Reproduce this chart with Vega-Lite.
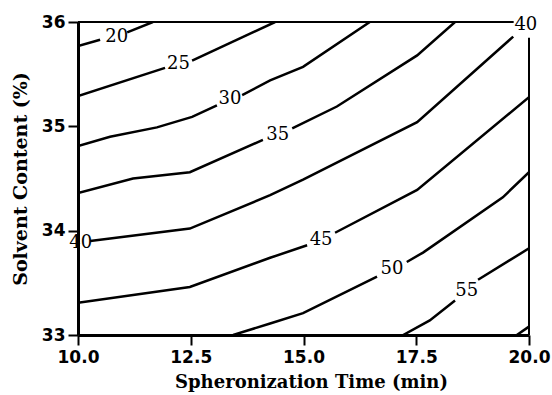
{
  "$schema": "https://vega.github.io/schema/vega-lite/v6.json",
  "autosize": "none",
  "width": 451,
  "height": 313,
  "padding": {"left": 78, "top": 22, "right": 23, "bottom": 60},
  "background": "white",
  "config": {"view": {"stroke": null}},
  "datasets": {
    "contours": [
      {"level": 20, "seg": "20a", "ord": 1, "t": 10.0, "s": 35.77},
      {"level": 20, "seg": "20a", "ord": 2, "t": 10.49, "s": 35.83},
      {"level": 20, "seg": "20b", "ord": 1, "t": 11.09, "s": 35.90},
      {"level": 20, "seg": "20b", "ord": 2, "t": 11.66, "s": 36.0},
      {"level": 25, "seg": "25a", "ord": 1, "t": 10.0, "s": 35.29},
      {"level": 25, "seg": "25a", "ord": 2, "t": 11.93, "s": 35.56},
      {"level": 25, "seg": "25b", "ord": 1, "t": 12.53, "s": 35.63},
      {"level": 25, "seg": "25b", "ord": 2, "t": 14.37, "s": 36.0},
      {"level": 30, "seg": "30a", "ord": 1, "t": 10.0, "s": 34.81},
      {"level": 30, "seg": "30a", "ord": 2, "t": 10.71, "s": 34.90},
      {"level": 30, "seg": "30a", "ord": 3, "t": 11.75, "s": 34.99},
      {"level": 30, "seg": "30a", "ord": 4, "t": 12.53, "s": 35.09},
      {"level": 30, "seg": "30a", "ord": 5, "t": 13.08, "s": 35.20},
      {"level": 30, "seg": "30b", "ord": 1, "t": 13.64, "s": 35.30},
      {"level": 30, "seg": "30b", "ord": 2, "t": 14.26, "s": 35.44},
      {"level": 30, "seg": "30b", "ord": 3, "t": 14.99, "s": 35.57},
      {"level": 30, "seg": "30b", "ord": 4, "t": 16.47, "s": 36.0},
      {"level": 35, "seg": "35a", "ord": 1, "t": 10.0, "s": 34.36},
      {"level": 35, "seg": "35a", "ord": 2, "t": 11.22, "s": 34.50},
      {"level": 35, "seg": "35a", "ord": 3, "t": 12.48, "s": 34.56},
      {"level": 35, "seg": "35a", "ord": 4, "t": 14.10, "s": 34.87},
      {"level": 35, "seg": "35b", "ord": 1, "t": 14.75, "s": 34.98},
      {"level": 35, "seg": "35b", "ord": 2, "t": 15.74, "s": 35.19},
      {"level": 35, "seg": "35b", "ord": 3, "t": 17.52, "s": 35.68},
      {"level": 35, "seg": "35b", "ord": 4, "t": 18.36, "s": 36.0},
      {"level": 40, "seg": "40a", "ord": 1, "t": 10.27, "s": 33.90},
      {"level": 40, "seg": "40a", "ord": 2, "t": 12.48, "s": 34.02},
      {"level": 40, "seg": "40a", "ord": 3, "t": 14.26, "s": 34.34},
      {"level": 40, "seg": "40a", "ord": 4, "t": 14.99, "s": 34.49},
      {"level": 40, "seg": "40a", "ord": 5, "t": 17.52, "s": 35.04},
      {"level": 40, "seg": "40a", "ord": 6, "t": 19.65, "s": 35.86},
      {"level": 45, "seg": "45a", "ord": 1, "t": 10.0, "s": 33.31},
      {"level": 45, "seg": "45a", "ord": 2, "t": 12.48, "s": 33.46},
      {"level": 45, "seg": "45a", "ord": 3, "t": 14.26, "s": 33.74},
      {"level": 45, "seg": "45a", "ord": 4, "t": 15.08, "s": 33.86},
      {"level": 45, "seg": "45b", "ord": 1, "t": 15.70, "s": 33.98},
      {"level": 45, "seg": "45b", "ord": 2, "t": 17.52, "s": 34.39},
      {"level": 45, "seg": "45b", "ord": 3, "t": 20.0, "s": 35.28},
      {"level": 50, "seg": "50a", "ord": 1, "t": 13.44, "s": 33.0},
      {"level": 50, "seg": "50a", "ord": 2, "t": 14.26, "s": 33.11},
      {"level": 50, "seg": "50a", "ord": 3, "t": 14.99, "s": 33.21},
      {"level": 50, "seg": "50a", "ord": 4, "t": 16.63, "s": 33.56},
      {"level": 50, "seg": "50b", "ord": 1, "t": 17.29, "s": 33.70},
      {"level": 50, "seg": "50b", "ord": 2, "t": 17.65, "s": 33.79},
      {"level": 50, "seg": "50b", "ord": 3, "t": 19.42, "s": 34.32},
      {"level": 50, "seg": "50b", "ord": 4, "t": 20.0, "s": 34.56},
      {"level": 55, "seg": "55a", "ord": 1, "t": 17.21, "s": 33.0},
      {"level": 55, "seg": "55a", "ord": 2, "t": 17.80, "s": 33.14},
      {"level": 55, "seg": "55a", "ord": 3, "t": 18.36, "s": 33.33},
      {"level": 55, "seg": "55b", "ord": 1, "t": 18.87, "s": 33.53},
      {"level": 55, "seg": "55b", "ord": 2, "t": 20.0, "s": 33.83},
      {"level": 60, "seg": "60a", "ord": 1, "t": 19.73, "s": 33.0},
      {"level": 60, "seg": "60a", "ord": 2, "t": 20.0, "s": 33.08}
    ],
    "labels": [
      {"label": "20", "t": 10.86, "s": 35.86},
      {"label": "25", "t": 12.23, "s": 35.60},
      {"label": "30", "t": 13.37, "s": 35.26},
      {"label": "35", "t": 14.43, "s": 34.92},
      {"label": "40", "t": 10.06, "s": 33.88},
      {"label": "40", "t": 19.93, "s": 35.97},
      {"label": "45", "t": 15.39, "s": 33.91},
      {"label": "50", "t": 16.96, "s": 33.63},
      {"label": "55", "t": 18.62, "s": 33.42}
    ],
    "frame": [
      {"t": 10.0, "t2": 19.66, "s": 36.0, "s2": 36.0},
      {"t": 20.0, "t2": 20.0, "s": 33.0, "s2": 35.85}
    ]
  },
  "layer": [
    {
      "data": {"name": "frame"},
      "mark": {"type": "rule", "color": "black", "strokeWidth": 2},
      "encoding": {
        "x": {"field": "t", "type": "quantitative", "scale": {"domain": [10, 20], "nice": false, "zero": false},
          "axis": {"values": [10, 12.5, 15, 17.5, 20], "format": ".1f", "grid": false, "domainColor": "black", "domainWidth": 3, "tickColor": "black", "tickWidth": 2, "tickSize": 10, "labelFlush": false, "labelFont": "DejaVu Sans", "labelFontWeight": "bold", "labelFontSize": 17, "labelColor": "black", "labelPadding": 4, "title": "Spheronization Time (min)", "titleFont": "DejaVu Serif", "titleFontSize": 18, "titleFontWeight": "bold", "titleColor": "black", "titlePadding": 8, "titleX": 233}},
        "x2": {"field": "t2"},
        "y": {"field": "s", "type": "quantitative", "scale": {"domain": [33, 36], "nice": false, "zero": false},
          "axis": {"values": [33, 34, 35, 36], "format": "d", "grid": false, "domainColor": "black", "domainWidth": 3, "tickColor": "black", "tickWidth": 2, "tickSize": 10, "labelFlush": false, "labelFont": "DejaVu Sans", "labelFontWeight": "bold", "labelFontSize": 17, "labelColor": "black", "labelPadding": 3, "title": "Solvent Content (%)", "titleFont": "DejaVu Serif", "titleFontSize": 19, "titleFontWeight": "bold", "titleColor": "black", "titlePadding": 11}},
        "y2": {"field": "s2"}
      }
    },
    {
      "data": {"name": "contours"},
      "mark": {"type": "line", "color": "black", "strokeWidth": 2.5, "clip": true},
      "encoding": {
        "x": {"field": "t", "type": "quantitative"},
        "y": {"field": "s", "type": "quantitative"},
        "detail": {"field": "seg"},
        "order": {"field": "ord"}
      }
    },
    {
      "data": {"name": "labels"},
      "mark": {"type": "text", "font": "DejaVu Serif", "fontSize": 18, "color": "black", "align": "center", "baseline": "middle"},
      "encoding": {
        "x": {"field": "t", "type": "quantitative"},
        "y": {"field": "s", "type": "quantitative"},
        "text": {"field": "label"}
      }
    }
  ]
}
